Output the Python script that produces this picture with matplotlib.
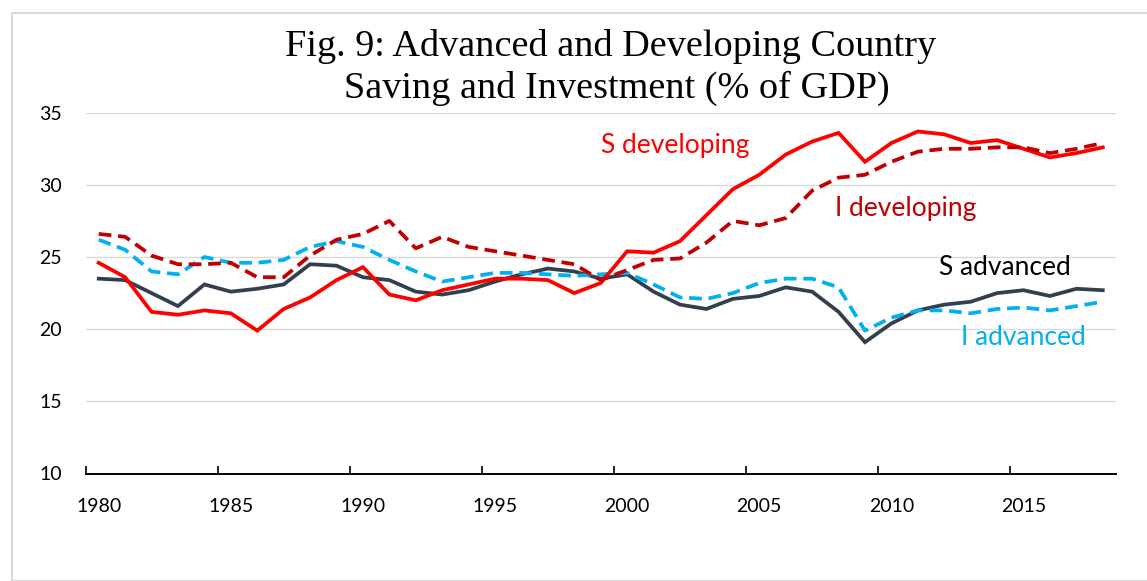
import numpy as np
import matplotlib
matplotlib.use("Agg")
import matplotlib.pyplot as plt
from matplotlib.patches import Rectangle

# --- Data (% of GDP) ---
years = list(range(1980, 2019))

s_developing = [24.6, 23.6, 21.2, 21.0, 21.3, 21.1, 19.9, 21.4, 22.2, 23.4, 24.3, 22.4, 22.0,
                22.7, 23.1, 23.5, 23.5, 23.4, 22.5, 23.2, 25.4, 25.3, 26.1, 27.9, 29.7,
                30.7, 32.1, 33.0, 33.6, 31.6, 32.9, 33.7, 33.5, 32.9, 33.1, 32.5, 31.9, 32.2, 32.6]
i_developing = [26.6, 26.4, 25.1, 24.5, 24.5, 24.6, 23.6, 23.6, 25.1, 26.2, 26.6, 27.5, 25.6,
                26.4, 25.7, 25.4, 25.1, 24.8, 24.5, 23.4, 24.1, 24.8, 24.9, 26.0, 27.5,
                27.2, 27.7, 29.6, 30.5, 30.7, 31.6, 32.3, 32.5, 32.5, 32.6, 32.6, 32.2, 32.5, 32.9]
s_advanced = [23.5, 23.4, 22.5, 21.6, 23.1, 22.6, 22.8, 23.1, 24.5, 24.4, 23.6, 23.4, 22.6,
              22.4, 22.7, 23.3, 23.8, 24.2, 24.0, 23.5, 23.8, 22.6, 21.7, 21.4, 22.1,
              22.3, 22.9, 22.6, 21.2, 19.1, 20.4, 21.3, 21.7, 21.9, 22.5, 22.7, 22.3, 22.8, 22.7]
i_advanced = [26.2, 25.5, 24.0, 23.8, 25.0, 24.6, 24.6, 24.8, 25.7, 26.1, 25.7, 24.8, 24.0,
              23.3, 23.6, 23.9, 23.9, 23.8, 23.7, 23.8, 23.9, 23.1, 22.2, 22.1, 22.5,
              23.2, 23.5, 23.5, 22.9, 19.9, 20.8, 21.3, 21.3, 21.1, 21.4, 21.5, 21.3, 21.6, 21.9]

label_years = [1980, 1985, 1990, 1995, 2000, 2005, 2010, 2015]
y_ticks = [10, 15, 20, 25, 30, 35]

# --- Colours ---
c_sdev = '#FF0000'
c_idev = '#C00000'
c_sadv = '#333F4F'
c_iadv = '#00B0F0'

fig = plt.figure(figsize=(11.47, 5.81), dpi=100)
W, H = 1147, 581

# light grey chart border
fig.patches.append(Rectangle((12 / W, 0), 1.2, 1 - 13 / H, transform=fig.transFigure,
                             fill=False, edgecolor='#D9D9D9', linewidth=1.5))

ax = fig.add_axes([85.5 / W, 1 - 473.5 / H, (1116 - 85.5) / W, (473.5 - 112.7) / H])

lw = 2.7
ax.plot(years, s_advanced, color=c_sadv, lw=lw, solid_joinstyle='miter')
ax.plot(years, i_advanced, color=c_iadv, lw=lw, dashes=(3.4, 1.8))
ax.plot(years, s_developing, color=c_sdev, lw=lw, solid_joinstyle='miter')
ax.plot(years, i_developing, color=c_idev, lw=lw, dashes=(3.4, 1.8))

ax.set_xlim(1979.5, 2018.5)
ax.set_ylim(10, 35)
ax.set_yticks(y_ticks)
ax.yaxis.grid(True, color='#D9D9D9', lw=1.0)
ax.set_axisbelow(True)

ax.set_xticks(label_years)
ax.set_xticks([y - 0.5 for y in label_years], minor=True)
ax.tick_params(axis='x', which='major', length=0, pad=18, labelsize=14)
ax.tick_params(axis='x', which='minor', length=6, width=1.2, direction='in', color='black')
ax.tick_params(axis='y', length=0, pad=17, labelsize=14)
for lab in ax.get_xticklabels() + ax.get_yticklabels():
    lab.set_fontfamily('Lato')

for s in ['top', 'right', 'left']:
    ax.spines[s].set_visible(False)
ax.spines['bottom'].set_linewidth(1.4)
ax.spines['bottom'].set_color('black')

# series labels
lbl = dict(fontsize=19, family='Lato', ha='center', va='center')
ax.text(2001.8, 32.7, 'S developing', color=c_sdev, **lbl)
ax.text(2010.55, 28.35, 'I developing', color=c_idev, **lbl)
ax.text(2014.3, 24.25, 'S advanced', color='black', **lbl)
ax.text(2015.0, 19.45, 'I advanced', color=c_iadv, **lbl)

# title
tt = dict(fontsize=27.5, family='Liberation Serif', ha='center', va='center')
fig.text(611 / W, 1 - 46 / H, 'Fig. 9: Advanced and Developing Country', **tt)
fig.text(617 / W, 1 - 88 / H, 'Saving and Investment (% of GDP)', **tt)

fig.savefig('out.png', dpi=100)
